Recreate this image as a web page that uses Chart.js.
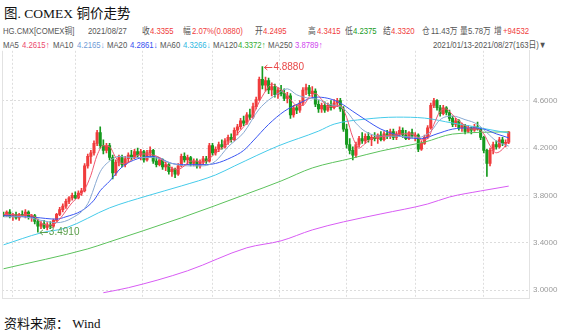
<!DOCTYPE html>
<html>
<head>
<meta charset="utf-8">
<script src="https://cdn.jsdelivr.net/npm/chart.js@4.4.1/dist/chart.umd.min.js"></script>
<style>
  body { margin: 0; background: #fff; width: 564px; height: 332px; overflow: hidden; position: relative;
         font-family: "Liberation Sans", "Noto Sans CJK SC", sans-serif; }
  #title { position: absolute; left: 4px; top: 2px; font: 13.5px "Liberation Serif", "Noto Sans CJK SC", serif; color: #111; white-space: nowrap; }
  .hd { position: absolute; font-size: 9px; line-height: 10px; white-space: nowrap; transform: scaleX(0.86); transform-origin: 0 0; }
  #wrap { position: absolute; left: 0; top: 42px; }
  #src { position: absolute; left: 4px; top: 313px; font: 13px "Liberation Serif", "Noto Sans CJK SC", serif; color: #111; white-space: nowrap; }
</style>
</head>
<body>
<div id="title">图. COMEX 铜价走势</div>
<div id="head"></div>
<div id="wrap"><canvas id="kChart" width="564" height="265"></canvas></div>
<div id="src">资料来源： Wind</div>

<script>
// HG.CMX daily candles, 2021/01/13 - 2021/08/27 (163 sessions)
const opens = [
  3.64,3.63,3.66,3.62,3.64,3.61,3.64,3.63,3.66,3.62, 3.63,3.58,3.54,3.56,3.53,3.55,3.54,3.59,3.64,3.68,
  3.71,3.75,3.78,3.80,3.78,3.82,3.84,4.05,4.13,4.16, 4.24,4.33,4.22,4.18,4.22,4.12,3.99,4.08,4.12,4.06,
  4.11,4.14,4.12,4.17,4.14,4.17,4.10,4.16,4.18,4.09, 4.06,4.10,4.04,4.06,4.00,4.02,3.98,4.05,4.13,4.10,
  4.12,4.07,4.09,4.05,4.08,4.11,4.09,4.22,4.16,4.19, 4.23,4.21,4.26,4.29,4.27,4.35,4.38,4.43,4.41,4.48,
  4.46,4.55,4.61,4.78,4.73,4.77,4.69,4.72,4.65,4.69, 4.66,4.62,4.64,4.48,4.54,4.52,4.58,4.69,4.71,4.66,
  4.68,4.57,4.53,4.56,4.52,4.56,4.54,4.58,4.60,4.53, 4.36,4.23,4.18,4.14,4.23,4.28,4.26,4.30,4.27,4.29,
  4.28,4.31,4.27,4.32,4.30,4.34,4.29,4.32,4.35,4.31, 4.28,4.33,4.30,4.31,4.19,4.24,4.29,4.37,4.56,4.60,
  4.54,4.49,4.54,4.50,4.45,4.40,4.43,4.37,4.39,4.34, 4.37,4.35,4.38,4.36,4.29,4.18,4.07,4.18,4.23,4.21,
  4.27,4.24,4.2495
];
const highs = [
  3.66,3.67,3.68,3.65,3.66,3.65,3.67,3.68,3.67,3.64, 3.64,3.60,3.58,3.59,3.57,3.58,3.60,3.65,3.70,3.73,
  3.77,3.79,3.82,3.83,3.84,3.86,4.07,4.15,4.18,4.26, 4.35,4.38,4.27,4.24,4.24,4.14,4.10,4.14,4.14,4.13,
  4.16,4.18,4.19,4.20,4.19,4.18,4.18,4.21,4.19,4.12, 4.12,4.11,4.08,4.07,4.04,4.03,4.07,4.15,4.16,4.14,
  4.13,4.11,4.11,4.10,4.13,4.13,4.24,4.24,4.21,4.25, 4.27,4.28,4.31,4.32,4.37,4.40,4.45,4.47,4.50,4.53,
  4.58,4.63,4.80,4.888,4.80,4.79,4.75,4.74,4.71,4.73, 4.70,4.67,4.66,4.56,4.57,4.60,4.71,4.74,4.73,4.72,
  4.70,4.60,4.58,4.59,4.58,4.60,4.61,4.62,4.62,4.55, 4.40,4.28,4.21,4.25,4.30,4.33,4.32,4.33,4.31,4.33,
  4.32,4.34,4.34,4.35,4.36,4.36,4.34,4.38,4.37,4.35, 4.34,4.36,4.33,4.32,4.26,4.31,4.39,4.58,4.62,4.61,
  4.56,4.56,4.55,4.52,4.47,4.45,4.44,4.41,4.40,4.39, 4.38,4.40,4.42,4.37,4.30,4.19,4.20,4.25,4.26,4.29,
  4.29,4.27,4.3415
];
const lows = [
  3.62,3.62,3.61,3.59,3.60,3.59,3.62,3.61,3.60,3.58, 3.56,3.491,3.52,3.52,3.51,3.52,3.53,3.58,3.63,3.66,
  3.69,3.73,3.76,3.77,3.77,3.80,3.83,4.03,4.07,4.14, 4.22,4.20,4.15,4.16,4.10,3.94,3.97,4.05,4.04,4.04,
  4.08,4.10,4.11,4.12,4.10,4.08,4.09,4.13,4.07,4.04, 4.05,4.02,4.01,3.98,3.96,3.95,3.97,4.04,4.08,4.06,
  4.05,4.05,4.03,4.03,4.06,4.07,4.08,4.14,4.14,4.17, 4.19,4.20,4.23,4.25,4.26,4.31,4.36,4.39,4.40,4.44,
  4.45,4.53,4.60,4.70,4.68,4.66,4.64,4.63,4.62,4.64, 4.60,4.58,4.45,4.46,4.49,4.50,4.56,4.65,4.64,4.63,
  4.55,4.50,4.50,4.50,4.51,4.52,4.53,4.55,4.51,4.34, 4.20,4.15,4.10,4.12,4.21,4.24,4.24,4.25,4.22,4.26,
  4.24,4.26,4.26,4.28,4.28,4.27,4.27,4.30,4.29,4.27, 4.27,4.29,4.26,4.17,4.18,4.23,4.28,4.36,4.54,4.52,
  4.47,4.48,4.48,4.43,4.38,4.38,4.35,4.34,4.32,4.33, 4.32,4.34,4.35,4.27,4.16,3.96,4.05,4.15,4.19,4.20,
  4.22,4.21,4.2375
];
const closes = [
  3.63,3.66,3.62,3.64,3.61,3.64,3.63,3.66,3.62,3.63, 3.58,3.54,3.56,3.53,3.55,3.54,3.59,3.64,3.68,3.71,
  3.75,3.78,3.80,3.78,3.82,3.84,4.05,4.13,4.16,4.24, 4.33,4.22,4.18,4.22,4.12,3.99,4.08,4.12,4.06,4.11,
  4.14,4.12,4.17,4.14,4.17,4.10,4.16,4.18,4.09,4.06, 4.10,4.04,4.06,4.00,4.02,3.98,4.05,4.13,4.10,4.12,
  4.07,4.09,4.05,4.08,4.11,4.09,4.22,4.16,4.19,4.23, 4.21,4.26,4.29,4.27,4.35,4.38,4.43,4.41,4.48,4.46,
  4.55,4.61,4.78,4.73,4.77,4.69,4.72,4.65,4.69,4.66, 4.62,4.64,4.48,4.54,4.52,4.58,4.69,4.71,4.66,4.68,
  4.57,4.53,4.56,4.52,4.56,4.54,4.58,4.60,4.53,4.36, 4.23,4.18,4.14,4.23,4.28,4.26,4.30,4.27,4.29,4.28,
  4.31,4.27,4.32,4.30,4.34,4.29,4.32,4.35,4.31,4.28, 4.33,4.30,4.31,4.19,4.24,4.29,4.37,4.56,4.60,4.54,
  4.49,4.54,4.50,4.45,4.40,4.43,4.37,4.39,4.34,4.37, 4.35,4.38,4.36,4.29,4.18,4.07,4.18,4.23,4.21,4.27,
  4.24,4.2475,4.3355
];

// moving averages, [session index, value]
const ma5 = [
  [0,3.64],[2,3.64],[4,3.635],[6,3.632],[8,3.64],[10,3.62],[12,3.57],[14,3.55],[16,3.555],[18,3.60],
  [20,3.67],[22,3.74],[24,3.79],[26,3.85],[28,3.97],[30,4.14],[32,4.22],[34,4.21],[36,4.12],[38,4.07],
  [40,4.08],[42,4.12],[44,4.15],[46,4.15],[48,4.14],[50,4.12],[52,4.07],[54,4.03],[56,4.02],[58,4.05],
  [60,4.09],[62,4.09],[64,4.08],[66,4.11],[68,4.16],[70,4.20],[72,4.24],[74,4.29],[76,4.35],[78,4.41],
  [80,4.48],[82,4.59],[84,4.68],[86,4.74],[88,4.71],[90,4.67],[92,4.61],[94,4.56],[96,4.56],[98,4.63],
  [100,4.66],[102,4.61],[104,4.55],[106,4.55],[108,4.56],[110,4.46],[112,4.29],[114,4.20],[116,4.24],[118,4.28],
  [120,4.29],[122,4.30],[124,4.31],[126,4.31],[128,4.32],[130,4.32],[132,4.31],[134,4.27],[136,4.28],[138,4.40],
  [140,4.51],[142,4.53],[144,4.48],[146,4.43],[148,4.39],[150,4.36],[152,4.36],[154,4.32],[156,4.22],[158,4.16],
  [160,4.19],[162,4.2615]
];
const ma10 = [
  [0,3.62],[6,3.62],[12,3.59],[17,3.57],[22,3.61],[27,3.73],[31,4.00],[34,4.09],[37,4.13],[41,4.12],
  [48,4.12],[54,4.07],[59,4.05],[64,4.05],[68,4.09],[72,4.21],[77,4.33],[82,4.53],[88,4.66],[91,4.70],
  [94,4.65],[98,4.62],[101,4.61],[104,4.57],[108,4.55],[110,4.51],[113,4.41],[116,4.34],[121,4.30],[126,4.30],
  [133,4.29],[137,4.34],[140,4.44],[144,4.47],[148,4.44],[152,4.40],[155,4.33],[158,4.26],[162,4.2165]
];
const ma20 = [
  [0,3.63],[10,3.615],[17,3.60],[20,3.62],[25,3.67],[29,3.76],[31,3.84],[34,3.92],[38,4.04],[43,4.11],
  [48,4.13],[54,4.07],[59,4.06],[64,4.06],[68,4.07],[73,4.12],[77,4.18],[80,4.26],[85,4.40],[90,4.51],
  [95,4.58],[100,4.63],[104,4.62],[108,4.58],[112,4.51],[116,4.44],[121,4.36],[125,4.32],[129,4.29],[134,4.28],
  [139,4.32],[144,4.36],[149,4.37],[154,4.36],[158,4.32],[162,4.2861]
];
const ma60 = [
  [0,3.383],[12,3.484],[20,3.526],[34,3.695],[46,3.796],[57,3.880],[68,3.973],[74,4.048],[88,4.217],[101,4.343],
  [106,4.402],[116,4.444],[126,4.461],[135,4.453],[144,4.411],[150,4.385],[155,4.360],[162,4.3266]
];
const ma120 = [
  [0,3.181],[27,3.349],[33,3.400],[57,3.611],[78,3.813],[89,3.922],[99,4.032],[112,4.116],[121,4.175],[132,4.234],
  [135,4.250],[144,4.318],[162,4.3372]
];
const ma250 = [
  [32,2.979],[40,3.021],[59,3.164],[78,3.358],[89,3.417],[99,3.509],[109,3.577],[121,3.644],[136,3.728],[143,3.787],
  [153,3.838],[162,3.8789]
];

const monthStarts = [13, 33, 56, 78, 99, 121, 143];
const yTicks = [3.0, 3.4, 3.8, 4.2, 4.6];

const RED = '#f03c3c', GREEN = '#169a1e', GREY = '#555';
const maColors = { MA5: '#ec4a6c', MA10: '#6f9bd6', MA20: '#3650f0', MA60: '#2fb8e2', MA120: '#34ad34', MA250: '#cf46ee' };
const maLine = { MA5: '#f0566f', MA10: '#88a9d2', MA20: '#3a56f2', MA60: '#46cbea', MA120: '#5cc25c', MA250: '#d85cf4' };

// quote strip above the chart
const last = closes.length - 1;
const head = document.getElementById('head');
function put(x, y, text, color) {
  const s = document.createElement('span');
  s.className = 'hd';
  s.style.left = x + 'px';
  s.style.top = y + 'px';
  s.style.color = color;
  s.textContent = text;
  head.appendChild(s);
}
put(3, 26, 'HG.CMX[COMEX铜]', GREY);
put(88, 26, '2021/08/27', GREY);
put(142, 26, '收', GREY);   put(150, 26, closes[last].toFixed(4), RED);
put(183, 26, '幅', GREY);   put(192, 26, '2.07%(0.0880)', RED);
put(255, 26, '开', GREY);   put(263, 26, opens[last].toFixed(4), RED);
put(308, 26, '高', GREY);   put(317, 26, highs[last].toFixed(4), RED);
put(345, 26, '低', GREY);   put(353, 26, lows[last].toFixed(4), GREEN);
put(383, 26, '结', GREY);   put(391, 26, '4.3320', RED);
put(422, 26, '仓', GREY);   put(431, 26, '11.43万', GREY);
put(460, 26, '量', GREY);   put(468, 26, '5.78万', GREY);
put(494, 26, '增', GREY);   put(503, 26, '+94532', RED);

const maRow = [
  ['MA5', ma5, 3, 22, '↑'], ['MA10', ma10, 53, 77, '↓'], ['MA20', ma20, 107, 130, '↓'],
  ['MA60', ma60, 160, 183, '↓'], ['MA120', ma120, 213, 238, '↑'], ['MA250', ma250, 268, 295, '↑']
];
maRow.forEach(([name, arr, lx, vx, dir]) => {
  put(lx, 40, name, GREY);
  put(vx, 40, arr[arr.length - 1][1].toFixed(4) + dir, maColors[name]);
});
put(433, 40, '2021/01/13-2021/08/27(163日)▼', GREY);

// left edge of the plot and the high/low tags
const framePlugin = {
  id: 'frame',
  afterDatasetsDraw(chart) {
    const { ctx, chartArea: a, scales: { x, y } } = chart;
    ctx.save();
    ctx.strokeStyle = '#e2e2e2';
    ctx.lineWidth = 1;
    ctx.beginPath();
    ctx.moveTo(a.left + 0.5, a.top);
    ctx.lineTo(a.left + 0.5, a.bottom);
    ctx.stroke();

    const hi = Math.max(...highs), hiIdx = highs.indexOf(hi);
    const lo = Math.min(...lows), loIdx = lows.indexOf(lo);
    const tag = (idx, val, color) => {
      const px = x.getPixelForValue(idx) + 1, py = Math.round(y.getPixelForValue(val)) + 0.5;
      ctx.strokeStyle = color;
      ctx.fillStyle = color;
      ctx.beginPath();
      ctx.moveTo(px + 1, py);
      ctx.lineTo(px + 9, py);
      ctx.moveTo(px + 4, py - 2.5);
      ctx.lineTo(px + 1, py);
      ctx.lineTo(px + 4, py + 2.5);
      ctx.stroke();
      ctx.font = '10px "Liberation Sans", sans-serif';
      ctx.textBaseline = 'middle';
      ctx.fillText(val.toFixed(4), px + 10, py);
    };
    tag(hiIdx, hi, '#e84848');
    tag(loIdx, lo, '#5a9e4a');
    ctx.restore();
  }
};

const upDown = closes.map((c, i) => c >= opens[i] ? RED : GREEN);

const lineSet = (name, arr, order) => ({
  type: 'line',
  label: name,
  data: arr.map(([i, v]) => ({ x: i, y: v })),
  borderColor: maLine[name],
  borderWidth: 1,
  pointRadius: 0,
  cubicInterpolationMode: 'monotone',
  order
});

new Chart(document.getElementById('kChart'), {
  data: {
    datasets: [
      {
        type: 'bar', label: 'wick',
        data: highs.map((h, i) => ({ x: i, y: [lows[i], h] })),
        backgroundColor: upDown, barThickness: 1, grouped: false, order: 20
      },
      {
        type: 'bar', label: 'body',
        data: opens.map((o, i) => ({ x: i, y: [o, closes[i] === o ? o + 0.004 : closes[i]] })),
        backgroundColor: upDown, barThickness: 2.4, grouped: false, order: 19
      },
      lineSet('MA250', ma250, 6),
      lineSet('MA120', ma120, 5),
      lineSet('MA60', ma60, 4),
      lineSet('MA20', ma20, 3),
      lineSet('MA10', ma10, 2),
      lineSet('MA5', ma5, 1)
    ]
  },
  options: {
    responsive: false,
    animation: false,
    devicePixelRatio: 1,
    layout: { padding: { left: 2, right: 0, top: 0, bottom: 2 } },
    plugins: { legend: { display: false }, tooltip: { enabled: false } },
    scales: {
      x: {
        type: 'linear', min: -0.5, max: 168.5, offset: false,
        afterBuildTicks: (axis) => { axis.ticks = monthStarts.map(v => ({ value: v })); },
        ticks: { display: false },
        grid: { color: '#dedede', drawTicks: false },
        border: { display: true, color: '#e2e2e2', dash: [2, 2] }
      },
      y: {
        position: 'right', min: 2.9326, max: 5.021,
        afterBuildTicks: (axis) => { axis.ticks = yTicks.map(v => ({ value: v })); },
        afterFit: (axis) => { axis.width = 35; },
        ticks: { color: '#9a9a9a', font: { size: 8, family: '"Liberation Sans", sans-serif' }, padding: 4,
                 callback: v => Number(v).toFixed(4) },
        grid: { color: '#dcdcdc', drawTicks: false },
        border: { display: true, color: '#e2e2e2', dash: [2, 2] }
      }
    }
  },
  plugins: [framePlugin]
});
</script>
</body>
</html>
